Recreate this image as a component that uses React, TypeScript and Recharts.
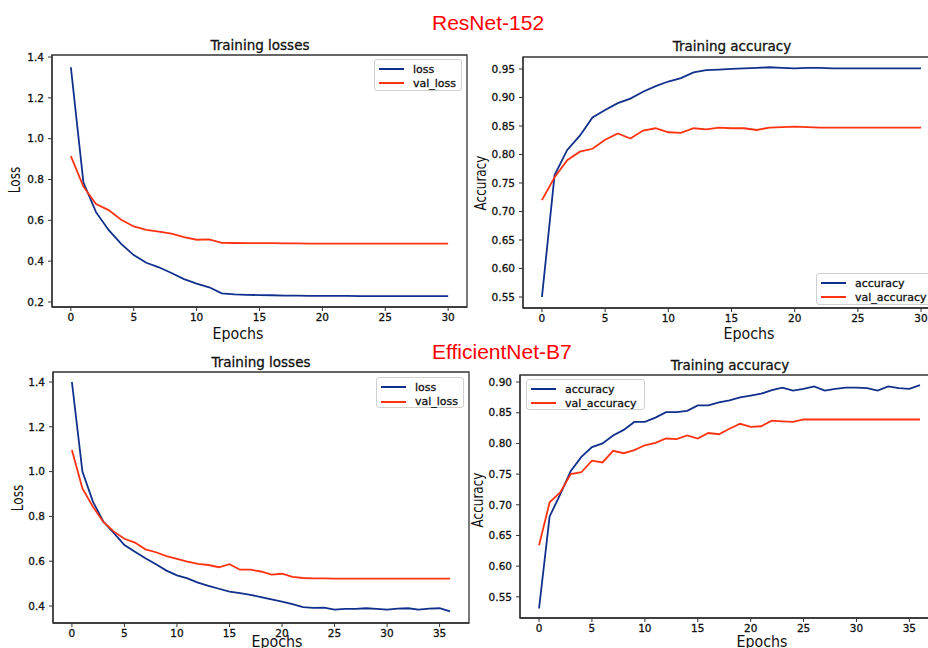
import React from 'react';
import { LineChart, Line, XAxis, YAxis, ReferenceArea } from 'recharts';

// ---------- data ----------
const resEpochs = [0,1,2,3,4,5,6,7,8,9,10,11,12,13,14,15,16,17,18,19,20,21,22,23,24,25,26,27,28,29,30];
const resLoss = [1.35,0.785,0.64,0.553,0.485,0.43,0.392,0.37,0.342,0.312,0.29,0.272,0.242,0.237,0.235,0.234,0.233,0.231,0.231,0.23,0.23,0.23,0.23,0.229,0.229,0.229,0.229,0.229,0.229,0.229,0.229];
const resValLoss = [0.915,0.765,0.68,0.65,0.603,0.57,0.553,0.545,0.535,0.518,0.505,0.507,0.49,0.489,0.488,0.488,0.488,0.487,0.487,0.486,0.486,0.486,0.486,0.486,0.486,0.486,0.486,0.486,0.486,0.486,0.486];
const resAcc = [0.55,0.764,0.808,0.833,0.865,0.878,0.89,0.898,0.91,0.92,0.928,0.934,0.944,0.948,0.949,0.95,0.951,0.952,0.953,0.952,0.951,0.952,0.952,0.951,0.951,0.951,0.951,0.951,0.951,0.951,0.951];
const resValAcc = [0.72,0.76,0.79,0.805,0.81,0.826,0.837,0.828,0.842,0.846,0.839,0.838,0.846,0.844,0.847,0.846,0.846,0.843,0.847,0.848,0.849,0.848,0.847,0.847,0.847,0.847,0.847,0.847,0.847,0.847,0.847];

const effEpochs = [0,1,2,3,4,5,6,7,8,9,10,11,12,13,14,15,16,17,18,19,20,21,22,23,24,25,26,27,28,29,30,31,32,33,34,35,36];
const effLoss = [1.4,1.0,0.866,0.776,0.725,0.672,0.642,0.613,0.586,0.558,0.537,0.523,0.504,0.49,0.477,0.464,0.457,0.45,0.44,0.43,0.42,0.408,0.395,0.392,0.393,0.384,0.387,0.387,0.39,0.387,0.384,0.388,0.39,0.384,0.388,0.39,0.376];
const effValLoss = [1.096,0.925,0.843,0.775,0.732,0.7,0.683,0.653,0.64,0.623,0.61,0.598,0.588,0.583,0.573,0.587,0.562,0.562,0.554,0.54,0.544,0.53,0.525,0.523,0.523,0.522,0.522,0.522,0.522,0.522,0.522,0.522,0.522,0.522,0.522,0.522,0.522];
const effAcc = [0.531,0.681,0.717,0.755,0.778,0.794,0.8,0.813,0.822,0.835,0.835,0.842,0.851,0.851,0.853,0.862,0.862,0.867,0.87,0.875,0.878,0.881,0.887,0.891,0.886,0.889,0.893,0.886,0.889,0.891,0.891,0.89,0.886,0.893,0.89,0.889,0.895];
const effValAcc = [0.634,0.704,0.72,0.75,0.753,0.772,0.769,0.788,0.784,0.789,0.797,0.801,0.808,0.807,0.813,0.808,0.817,0.815,0.824,0.832,0.827,0.828,0.837,0.836,0.835,0.839,0.839,0.839,0.839,0.839,0.839,0.839,0.839,0.839,0.839,0.839,0.839];

const resXTicks = [0,5,10,15,20,25,30];
const effXTicks = [0,5,10,15,20,25,30,35];
const resLossTicks = [0.2,0.4,0.6,0.8,1.0,1.2,1.4];
const resAccTicks = [0.55,0.6,0.65,0.7,0.75,0.8,0.85,0.9,0.95];
const effLossTicks = [0.4,0.6,0.8,1.0,1.2,1.4];
const effAccTicks = [0.55,0.6,0.65,0.7,0.75,0.8,0.85,0.9];

const lossNames = ['loss', 'val_loss'];
const accNames = ['accuracy', 'val_accuracy'];
const figTitles = ['ResNet-152', 'EfficientNet-B7'];

const BLUE = '#10308c';
const RED = '#ff3311';
const FONT = '"DejaVu Sans", sans-serif';

function table(epochs: number[], a: number[], b: number[], names: string[]) {
  return epochs.map((e, i) => ({ epoch: e, [names[0]]: a[i], [names[1]]: b[i] }));
}

type Box = { x0: number; y0: number; x1: number; y1: number };

type PanelProps = {
  box: Box;
  data: any[];
  names: string[];
  xDomain: [number, number];
  yDomain: [number, number];
  xTicks: number[];
  yTicks: number[];
  yFmt: (v: number) => string;
  title: string;
  titlePos: [number, number];
  ylabel: string;
  ylabelPos: [number, number];
  xlabelPos: [number, number];
  legend: { left: number; top: number; width: number; height: number; rows: number };
};

const YW = 45;
const XH = 30;

function Panel(p: PanelProps) {
  const padL = 50, padT = 10, padR = 10, padB = 40;
  const w = p.box.x1 - p.box.x0 + padL + padR;
  const h = p.box.y1 - p.box.y0 + padT + padB;
  const tickStyle = { fontSize: 10.5, fill: '#111', stroke: '#111', strokeWidth: 0.3, fontFamily: FONT };
  const colors = [BLUE, RED];
  const textThick: React.CSSProperties = { WebkitTextStroke: '0.3px #111' } as any;
  return (
    <>
      <div style={{ position: 'absolute', left: p.box.x0 - padL, top: p.box.y0 - padT }}>
        <LineChart width={w} height={h} data={p.data}
          margin={{ top: padT, right: padR, left: padL - YW, bottom: padB - XH }}>
          <XAxis dataKey="epoch" type="number" domain={p.xDomain} ticks={p.xTicks}
            allowDataOverflow interval={0} height={XH}
            stroke="#333" tick={tickStyle} tickSize={4} tickMargin={3}
            axisLine={{ stroke: '#333', strokeWidth: 1.3 }} tickLine={{ stroke: '#333' }} />
          <YAxis type="number" domain={p.yDomain} ticks={p.yTicks} allowDataOverflow interval={0}
            width={YW} tick={tickStyle} tickFormatter={p.yFmt} tickSize={4} tickMargin={4}
            axisLine={{ stroke: '#333', strokeWidth: 1.3 }} tickLine={{ stroke: '#333' }} />
          <ReferenceArea x1={p.xDomain[0]} x2={p.xDomain[1]} y1={p.yDomain[0]} y2={p.yDomain[1]}
            fill="none" fillOpacity={0} stroke="#333" strokeWidth={1.3} ifOverflow="visible" />
          {p.names.map((n, i) => (
            <Line key={n} dataKey={n} type="linear" stroke={colors[i]} strokeWidth={1.8}
              dot={false} isAnimationActive={false} />
          ))}
        </LineChart>
      </div>
      <div style={{ position: 'absolute', left: p.titlePos[0], top: p.titlePos[1], transform: 'translate(-50%,-50%)',
        fontFamily: FONT, fontSize: 13.5, color: '#111', whiteSpace: 'nowrap', ...textThick }}>{p.title}</div>
      <div style={{ position: 'absolute', left: p.ylabelPos[0], top: p.ylabelPos[1],
        transform: 'translate(-50%,-50%) rotate(-90deg) scaleX(0.8)',
        fontFamily: FONT, fontSize: 15, color: '#111', whiteSpace: 'nowrap' }}>{p.ylabel}</div>
      <div style={{ position: 'absolute', left: p.xlabelPos[0], top: p.xlabelPos[1],
        transform: 'translate(-50%,-50%) scaleX(0.95)',
        fontFamily: FONT, fontSize: 15, color: '#111', whiteSpace: 'nowrap' }}>Epochs</div>
      <div style={{ position: 'absolute', left: p.legend.left, top: p.legend.top, width: p.legend.width,
        height: p.legend.height, boxSizing: 'border-box', border: '1px solid #d0d0d0', borderRadius: 3,
        background: 'rgba(255,255,255,0.85)', fontFamily: FONT, fontSize: 11, color: '#111' }}>
        {p.names.map((n, i) => (
          <div key={n} style={{ position: 'absolute', left: 4, top: 2 + i * p.legend.rows, height: p.legend.rows,
            display: 'flex', alignItems: 'center', whiteSpace: 'nowrap', ...textThick }}>
            <div style={{ width: 25, height: 2, background: colors[i], marginRight: 9 }} />
            <span>{n}</span>
          </div>
        ))}
      </div>
    </>
  );
}

const f1 = (v: number) => v.toFixed(1);
const f2 = (v: number) => v.toFixed(2);

export default function App() {
  const resLossData = table(resEpochs, resLoss, resValLoss, lossNames);
  const resAccData = table(resEpochs, resAcc, resValAcc, accNames);
  const effLossData = table(effEpochs, effLoss, effValLoss, lossNames);
  const effAccData = table(effEpochs, effAcc, effValAcc, accNames);
  const figTitleStyle: React.CSSProperties = {
    position: 'absolute', left: 432, transform: 'translateY(-50%)', fontFamily: '"Liberation Sans", Arial, sans-serif',
    fontSize: 21, color: '#ff0000', whiteSpace: 'nowrap',
  };
  return (
    <div style={{ position: 'absolute', left: 0, top: 0, width: 928, height: 648, overflow: 'hidden', background: '#fff' }}>
      <div style={{ ...figTitleStyle, top: 23 }}>{figTitles[0]}</div>
      <div style={{ ...figTitleStyle, top: 352 }}>{figTitles[1]}</div>
      <Panel box={{ x0: 52, y0: 55, x1: 467, y1: 307 }} data={resLossData} names={lossNames}
        xDomain={[-1.5, 31.5]} yDomain={[0.1755, 1.41]} xTicks={resXTicks} yTicks={resLossTicks} yFmt={f1}
        title="Training losses" titlePos={[260, 45]} ylabel="Loss" ylabelPos={[15, 180]} xlabelPos={[238, 334]}
        legend={{ left: 374, top: 59, width: 88, height: 32, rows: 14 }} />
      <Panel box={{ x0: 523, y0: 57, x1: 940, y1: 308 }} data={resAccData} names={accNames}
        xDomain={[-1.5, 31.5]} yDomain={[0.5307, 0.971]} xTicks={resXTicks} yTicks={resAccTicks} yFmt={f2}
        title="Training accuracy" titlePos={[732, 46]} ylabel="Accuracy" ylabelPos={[481, 183]} xlabelPos={[749, 334]}
        legend={{ left: 816, top: 273, width: 118, height: 32, rows: 14 }} />
      <Panel box={{ x0: 53, y0: 372, x1: 469, y1: 623 }} data={effLossData} names={lossNames}
        xDomain={[-1.8, 37.8]} yDomain={[0.3241, 1.4446]} xTicks={effXTicks} yTicks={effLossTicks} yFmt={f1}
        title="Training losses" titlePos={[261, 362]} ylabel="Loss" ylabelPos={[18, 498]} xlabelPos={[277, 642]}
        legend={{ left: 376, top: 377, width: 88, height: 31, rows: 14.5 }} />
      <Panel box={{ x0: 520, y0: 375, x1: 939, y1: 618 }} data={effAccData} names={accNames}
        xDomain={[-1.8, 37.8]} yDomain={[0.5155, 0.9115]} xTicks={effXTicks} yTicks={effAccTicks} yFmt={f2}
        title="Training accuracy" titlePos={[730, 365]} ylabel="Accuracy" ylabelPos={[478, 500]} xlabelPos={[762, 642]}
        legend={{ left: 526, top: 379, width: 119, height: 31, rows: 14 }} />
    </div>
  );
}
